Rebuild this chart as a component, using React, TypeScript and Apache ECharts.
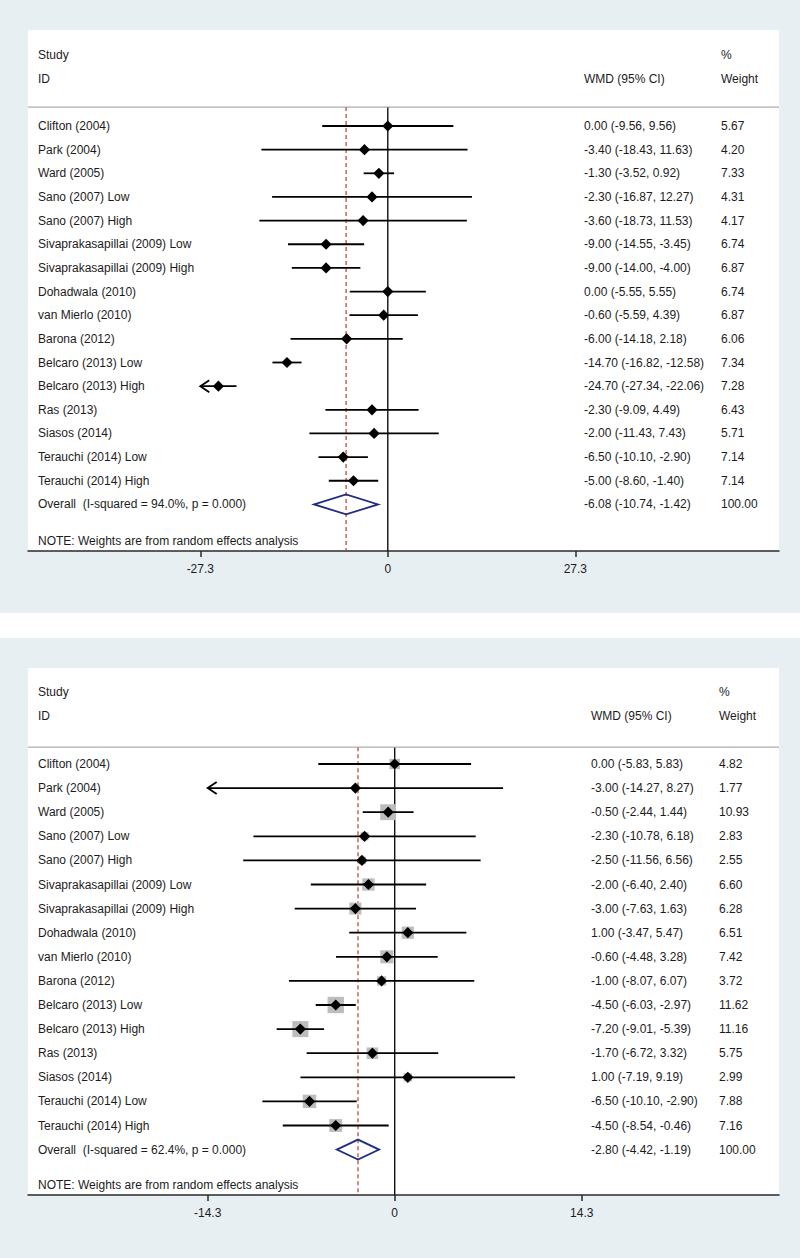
import React, { useEffect, useRef } from "react";
import * as echarts from "echarts";

// ---------- data ----------
const studies = [
  "Clifton (2004)",
  "Park (2004)",
  "Ward (2005)",
  "Sano (2007) Low",
  "Sano (2007) High",
  "Sivaprakasapillai (2009) Low",
  "Sivaprakasapillai (2009) High",
  "Dohadwala (2010)",
  "van Mierlo (2010)",
  "Barona (2012)",
  "Belcaro (2013) Low",
  "Belcaro (2013) High",
  "Ras (2013)",
  "Siasos (2014)",
  "Terauchi (2014) Low",
  "Terauchi (2014) High",
];

const topEst = [0.0, -3.4, -1.3, -2.3, -3.6, -9.0, -9.0, 0.0, -0.6, -6.0, -14.7, -24.7, -2.3, -2.0, -6.5, -5.0];
const topLo = [-9.56, -18.43, -3.52, -16.87, -18.73, -14.55, -14.0, -5.55, -5.59, -14.18, -16.82, -27.34, -9.09, -11.43, -10.1, -8.6];
const topHi = [9.56, 11.63, 0.92, 12.27, 11.53, -3.45, -4.0, 5.55, 4.39, 2.18, -12.58, -22.06, 4.49, 7.43, -2.9, -1.4];
const topWeight = [5.67, 4.2, 7.33, 4.31, 4.17, 6.74, 6.87, 6.74, 6.87, 6.06, 7.34, 7.28, 6.43, 5.71, 7.14, 7.14];
const topOverall = [-6.08, -10.74, -1.42];
const topOverallLabel = "Overall  (I-squared = 94.0%, p = 0.000)";
const topTicks = [-27.34, 0, 27.34];
const topTickLabels = ["-27.3", "0", "27.3"];

const botEst = [0.0, -3.0, -0.5, -2.3, -2.5, -2.0, -3.0, 1.0, -0.6, -1.0, -4.5, -7.2, -1.7, 1.0, -6.5, -4.5];
const botLo = [-5.83, -14.27, -2.44, -10.78, -11.56, -6.4, -7.63, -3.47, -4.48, -8.07, -6.03, -9.01, -6.72, -7.19, -10.1, -8.54];
const botHi = [5.83, 8.27, 1.44, 6.18, 6.56, 2.4, 1.63, 5.47, 3.28, 6.07, -2.97, -5.39, 3.32, 9.19, -2.9, -0.46];
const botWeight = [4.82, 1.77, 10.93, 2.83, 2.55, 6.6, 6.28, 6.51, 7.42, 3.72, 11.62, 11.16, 5.75, 2.99, 7.88, 7.16];
const botOverall = [-2.8, -4.42, -1.19];
const botOverallLabel = "Overall  (I-squared = 62.4%, p = 0.000)";
const botTicks = [-14.27, 0, 14.27];
const botTickLabels = ["-14.3", "0", "14.3"];

const noteText = "NOTE: Weights are from random effects analysis";

// ---------- layout / style ----------
const FONT = "'Liberation Sans', Arial, Helvetica, sans-serif";
const TXT = "#1c1c1c";
const BG = "#e8eff3";
const PLOT_L = 28;
const PLOT_R = 779;

type Panel = {
  est: number[]; lo: number[]; hi: number[]; weight: number[];
  overall: number[]; overallLabel: string; ticks: number[]; tickLabels: string[];
  top: number; bottom: number; zeroPx: number; pxPerUnit: number; row0Px: number; rowStep: number;
  wmdX: number; weightX: number; headerRow: number; noteRow: number; boxK: number;
};

const panels: Panel[] = [
  {
    est: topEst, lo: topLo, hi: topHi, weight: topWeight, overall: topOverall,
    overallLabel: topOverallLabel, ticks: topTicks, tickLabels: topTickLabels,
    top: 30, bottom: 551, zeroPx: 387.8, pxPerUnit: 187.5 / 27.34, row0Px: 126, rowStep: 23.65,
    wmdX: 584, weightX: 721, headerRow: -0.8, noteRow: 17.55, boxK: 0,
  },
  {
    est: botEst, lo: botLo, hi: botHi, weight: botWeight, overall: botOverall,
    overallLabel: botOverallLabel, ticks: botTicks, tickLabels: botTickLabels,
    top: 668, bottom: 1195, zeroPx: 394.7, pxPerUnit: 187 / 14.27, row0Px: 764, rowStep: 24.1,
    wmdX: 591, weightX: 719, headerRow: -0.7, noteRow: 17.47, boxK: 4.8,
  },
];

const fmt = (v: number) => v.toFixed(2);

function buildPanel(p: Panel, gi: number) {
  const grid = {
    left: PLOT_L, width: PLOT_R - PLOT_L, top: p.top, height: p.bottom - p.top,
    show: true, backgroundColor: "#ffffff", borderWidth: 0, containLabel: false,
  };
  const xAxis = {
    type: "value", gridIndex: gi,
    min: (PLOT_L - p.zeroPx) / p.pxPerUnit,
    max: (PLOT_R - p.zeroPx) / p.pxPerUnit,
    axisLine: { show: true, onZero: false, lineStyle: { color: "#2a2a2a", width: 1.5 } },
    axisTick: { show: true, customValues: p.ticks, length: 6, lineStyle: { color: "#2a2a2a", width: 1.5 } },
    axisLabel: {
      show: true, customValues: p.ticks, margin: 12, fontSize: 12, fontFamily: FONT, color: TXT,
      formatter: (v: number) => {
        let best = 0;
        p.ticks.forEach((t, k) => { if (Math.abs(t - v) < Math.abs(p.ticks[best] - v)) best = k; });
        return p.tickLabels[best];
      },
    },
    splitLine: { show: false },
  };
  const yAxis = {
    type: "value", gridIndex: gi, inverse: true,
    min: (p.top - p.row0Px) / p.rowStep,
    max: (p.bottom - p.row0Px) / p.rowStep,
    show: false, splitLine: { show: false },
  };

  const range = p.ticks[p.ticks.length - 1];
  const n = studies.length;

  // reference lines: zero line, overall estimate line, header rule
  const refSeries = {
    type: "custom", xAxisIndex: gi, yAxisIndex: gi, z: 1, silent: true,
    data: [[0, 0], [p.overall[0], 1], [0, 2]],
    renderItem: (params: any, api: any) => {
      const kind = api.value(1);
      const cs = params.coordSys;
      const yTop = api.coord([0, p.headerRow])[1];
      const yBot = cs.y + cs.height;
      if (kind === 2) {
        return {
          type: "line",
          shape: { x1: cs.x, y1: yTop, x2: cs.x + cs.width, y2: yTop },
          style: { stroke: "#9a9a9a", lineWidth: 1 },
        };
      }
      const x = api.coord([api.value(0), 0])[0];
      return {
        type: "line",
        shape: { x1: x, y1: yTop, x2: x, y2: yBot },
        style: kind === 0
          ? { stroke: "#111", lineWidth: 1.4 }
          : { stroke: "#c0392b", lineWidth: 1.2, lineDash: [4, 3] },
      };
    },
  };

  const ciSeries = {
    type: "custom", xAxisIndex: gi, yAxisIndex: gi, z: 3, silent: true,
    data: studies.map((_, i) => [i, p.lo[i], p.hi[i], p.est[i], p.weight[i]]),
    renderItem: (_params: any, api: any) => {
      const i = api.value(0), lo = api.value(1), hi = api.value(2), est = api.value(3), w = api.value(4);
      const pLo = api.coord([lo, i]);
      const pHi = api.coord([hi, i]);
      const pE = api.coord([est, i]);
      const children: any[] = [];
      const box = p.boxK * Math.sqrt(w);
      if (box > 0) {
        children.push({
          type: "rect",
          shape: { x: pE[0] - box / 2, y: pE[1] - box / 2, width: box, height: box },
          style: { fill: "#bdbdbd" },
        });
      }
      children.push({
        type: "line",
        shape: { x1: pLo[0], y1: pLo[1], x2: pHi[0], y2: pHi[1] },
        style: { stroke: "#000", lineWidth: 1.8 },
      });
      if (lo <= -range + 1e-9) {
        children.push({
          type: "polyline",
          shape: { points: [[pLo[0] + 9, pLo[1] - 6], [pLo[0], pLo[1]], [pLo[0] + 9, pLo[1] + 6]] },
          style: { stroke: "#000", lineWidth: 1.8, fill: null },
        });
      }
      if (hi >= range - 1e-9) {
        children.push({
          type: "polyline",
          shape: { points: [[pHi[0] - 9, pHi[1] - 6], [pHi[0], pHi[1]], [pHi[0] - 9, pHi[1] + 6]] },
          style: { stroke: "#000", lineWidth: 1.8, fill: null },
        });
      }
      const d = 5.6;
      children.push({
        type: "polygon",
        shape: { points: [[pE[0], pE[1] - d], [pE[0] + d, pE[1]], [pE[0], pE[1] + d], [pE[0] - d, pE[1]]] },
        style: { fill: "#000" },
      });
      return { type: "group", children };
    },
  };

  const overallSeries = {
    type: "custom", xAxisIndex: gi, yAxisIndex: gi, z: 4, silent: true,
    data: [[n, p.overall[1], p.overall[2], p.overall[0]]],
    renderItem: (_params: any, api: any) => {
      const row = api.value(0);
      const a = api.coord([api.value(1), row]);
      const b = api.coord([api.value(2), row]);
      const c = api.coord([api.value(3), row]);
      const h = 10;
      return {
        type: "polygon",
        shape: { points: [[a[0], a[1]], [c[0], c[1] - h], [b[0], b[1]], [c[0], c[1] + h]] },
        style: { fill: "none", stroke: "#1f2d80", lineWidth: 1.8 },
      };
    },
  };

  const rows: { row: number; c1: string; c2: string; c3: string }[] = [
    { row: -3, c1: "Study", c2: "", c3: "%" },
    { row: -2, c1: "ID", c2: "WMD (95% CI)", c3: "Weight" },
    ...studies.map((s, i) => ({
      row: i, c1: s, c2: `${fmt(p.est[i])} (${fmt(p.lo[i])}, ${fmt(p.hi[i])})`, c3: fmt(p.weight[i]),
    })),
    {
      row: n, c1: p.overallLabel,
      c2: `${fmt(p.overall[0])} (${fmt(p.overall[1])}, ${fmt(p.overall[2])})`, c3: fmt(100),
    },
    { row: p.noteRow, c1: noteText, c2: "", c3: "" },
  ];

  const textSeries = {
    type: "custom", xAxisIndex: gi, yAxisIndex: gi, z: 5, silent: true,
    data: rows.map((r) => [0, r.row]),
    renderItem: (params: any, api: any) => {
      const r = rows[params.dataIndex];
      const y = api.coord([0, api.value(1)])[1];
      const mk = (x: number, t: string) => ({
        type: "text",
        style: {
          x, y, text: t, fill: TXT, font: `12px ${FONT}`,
          textAlign: "left", textVerticalAlign: "middle", verticalAlign: "middle",
        },
      });
      const children: any[] = [];
      if (r.c1) children.push(mk(38, r.c1));
      if (r.c2) children.push(mk(p.wmdX, r.c2));
      if (r.c3) children.push(mk(p.weightX, r.c3));
      return { type: "group", children };
    },
  };

  return { grid, xAxis, yAxis, series: [refSeries, ciSeries, overallSeries, textSeries] };
}

export default function App() {
  const ref = useRef<HTMLDivElement>(null);
  useEffect(() => {
    document.body.style.margin = "0";
    if (!ref.current) return;
    const chart = echarts.init(ref.current, null, { renderer: "svg" });
    const built = panels.map((p, i) => buildPanel(p, i));
    chart.setOption({
      animation: false,
      backgroundColor: BG,
      grid: built.map((b) => b.grid),
      xAxis: built.map((b) => b.xAxis),
      yAxis: built.map((b) => b.yAxis),
      series: built.flatMap((b) => b.series),
      graphic: [
        {
          type: "rect", left: 0, top: 613, z: -10, silent: true,
          shape: { width: 800, height: 25 },
          style: { fill: "#ffffff" },
        },
      ],
    });
    return () => chart.dispose();
  }, []);
  return <div ref={ref} style={{ width: 800, height: 1258 }} />;
}
